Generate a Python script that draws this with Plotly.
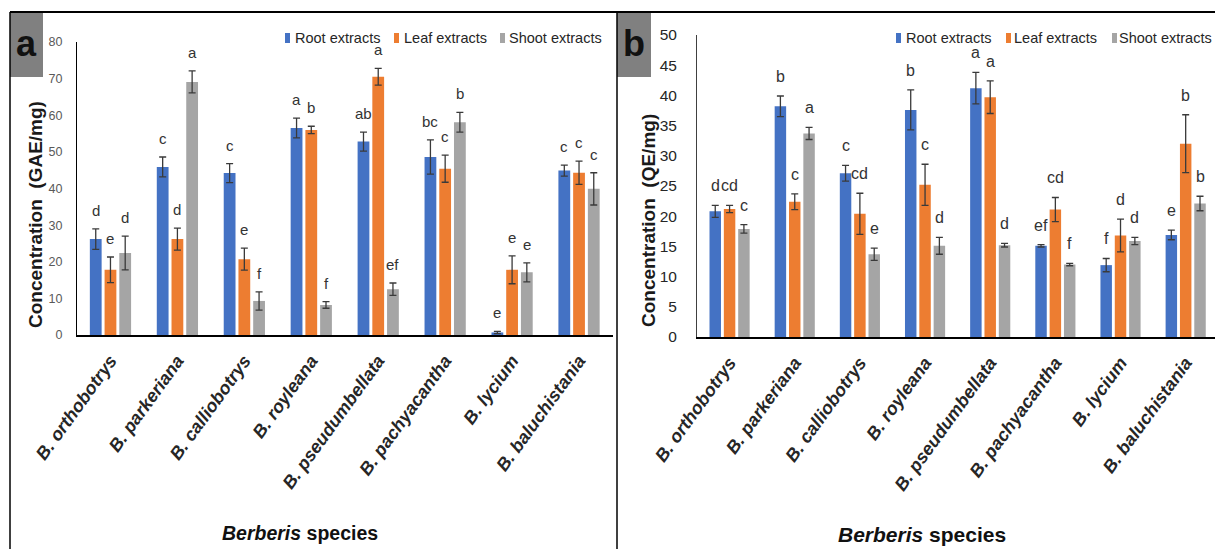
import plotly.graph_objects as go

# ---------------- data ----------------
species = ["B. orthobotrys", "B. parkeriana", "B. calliobotrys", "B. royleana",
           "B. pseudumbellata", "B. pachyacantha", "B. lycium", "B. baluchistania"]
series_names = ["Root extracts", "Leaf extracts", "Shoot extracts"]

# (a) total phenolic content, GAE/mg
phenol_root = [26.2, 45.9, 44.2, 56.5, 52.8, 48.6, 0.7, 44.9]
phenol_leaf = [17.8, 26.2, 20.7, 56.0, 70.5, 45.4, 17.8, 44.3]
phenol_shoot = [22.4, 69.1, 9.3, 8.2, 12.5, 58.1, 17.1, 39.9]
phenol_root_err = [2.8, 2.7, 2.6, 2.7, 2.6, 4.7, 0.3, 1.5]
phenol_leaf_err = [3.5, 3.0, 3.0, 1.0, 2.3, 3.7, 3.8, 3.2]
phenol_shoot_err = [4.6, 3.0, 2.5, 0.9, 1.7, 2.7, 2.6, 4.4]
phenol_root_sig = ["d", "c", "c", "a", "ab", "bc", "e", "c"]
phenol_leaf_sig = ["e", "d", "e", "b", "a", "c", "e", "c"]
phenol_shoot_sig = ["d", "a", "f", "f", "ef", "b", "e", "c"]

# (b) total flavonoid content, QE/mg
flav_root = [20.8, 38.2, 27.1, 37.6, 41.2, 15.1, 11.9, 16.9]
flav_leaf = [21.2, 22.4, 20.4, 25.2, 39.7, 21.1, 16.8, 32.0]
flav_shoot = [17.9, 33.7, 13.7, 15.1, 15.2, 12.0, 15.9, 22.1]
flav_root_err = [1.0, 1.7, 1.3, 3.3, 2.6, 0.2, 1.1, 0.8]
flav_leaf_err = [0.6, 1.3, 3.4, 3.4, 2.7, 2.0, 2.7, 4.8]
flav_shoot_err = [0.7, 1.0, 1.0, 1.4, 0.3, 0.2, 0.6, 1.2]
flav_root_sig = ["d", "b", "c", "b", "a", "ef", "f", "e"]
flav_leaf_sig = ["cd", "c", "cd", "c", "a", "cd", "d", "b"]
flav_shoot_sig = ["c", "a", "e", "d", "d", "f", "d", "b"]

colors = ["#4472C4", "#ED7D31", "#A5A5A5"]

# ---------------- layout helpers ----------------
W, H = 1215, 549


def px(x):
    return x / W


def py(y):
    return 1 - y / H


BARGAP = 0.34
SLOT = (1 - BARGAP) / 3  # width of one bar slot in category units

FONT = "Liberation Sans, Arial, sans-serif"

fig = go.Figure()

panels = [
    ("x", "y", [phenol_root, phenol_leaf, phenol_shoot],
     [phenol_root_err, phenol_leaf_err, phenol_shoot_err],
     [phenol_root_sig, phenol_leaf_sig, phenol_shoot_sig]),
    ("x2", "y2", [flav_root, flav_leaf, flav_shoot],
     [flav_root_err, flav_leaf_err, flav_shoot_err],
     [flav_root_sig, flav_leaf_sig, flav_shoot_sig]),
]

annotations = []
for k, (xa, ya, vals, errs, sigs) in enumerate(panels):
    for j in range(3):
        fig.add_trace(go.Bar(
            x=list(range(len(species))), y=vals[j], name=series_names[j],
            marker=dict(color=colors[j], line=dict(width=0)),
            error_y=dict(type="data", array=errs[j], symmetric=True,
                         color="#3a3a3a", thickness=1.3, width=3.5),
            xaxis=xa, yaxis=ya, showlegend=False,
        ))
        for i in range(len(species)):
            annotations.append(dict(
                x=i + (j - 1) * SLOT, y=vals[j][i] + errs[j][i],
                xref=xa, yref=ya, text=sigs[j][i], showarrow=False,
                xanchor="center", yanchor="bottom", yshift=8 if k == 0 else 9,
                font=dict(family=FONT, size=15 if k == 0 else 16, color="#333333"),
            ))

tick_font = dict(family=FONT, size=18, color="#262626", weight="bold", style="italic")
common_x = dict(tickvals=list(range(len(species))), ticktext=species,
                tickangle=-54, tickfont=tick_font, ticks="",
                showline=True, linecolor="black", linewidth=2,
                showgrid=False, zeroline=False, automargin=False,
                ticklabelstandoff=6)

fig.update_layout(
    width=W, height=H,
    margin=dict(l=0, r=0, t=0, b=0, autoexpand=False),
    paper_bgcolor="white", plot_bgcolor="white",
    barmode="group", bargap=BARGAP, bargroupgap=0.2,
    showlegend=False,
    xaxis=dict(domain=[px(77), px(612.5)], range=[-0.5, 7.5], anchor="y", **common_x),
    yaxis=dict(domain=[py(335), py(42)], range=[0, 80], dtick=10,
               tickfont=dict(family=FONT, size=12.5, color="#595959"),
               showline=True, linecolor="black", linewidth=1.3,
               showgrid=False, zeroline=False, anchor="x", ticks="",
               automargin=False, ticklabelstandoff=11),
    xaxis2=dict(domain=[px(697), 1.0], range=[-0.5, 7.45], anchor="y2", **common_x),
    yaxis2=dict(domain=[py(337), py(35)], range=[0, 50], dtick=5,
                tickfont=dict(family=FONT, size=15.5, color="#262626"),
                showline=True, linecolor="#404040", linewidth=1,
                showgrid=False, zeroline=False, anchor="x2", ticks="",
                automargin=False, ticklabelstandoff=16),
)


def paper_text(x, y, text, size, color="#1a1a1a", angle=0, xanchor="center"):
    return dict(x=px(x), y=py(y), xref="paper", yref="paper", text=text,
                textangle=angle, showarrow=False, xanchor=xanchor, yanchor="middle",
                font=dict(family=FONT, size=size, color=color))


# axis titles
annotations += [
    paper_text(35, 215, "<b>Concentration  (GAE/mg)</b>", 19, angle=-90),
    paper_text(648, 221, "<b>Concentration  (QE/mg)</b>", 19, angle=-90),
    paper_text(300, 533, "<b><i>Berberis</i> species</b>", 19.5, color="#111111"),
    paper_text(922, 534, "<b><i>Berberis</i> species</b>", 21, color="#111111"),
]

shapes = []
# legends drawn as swatch + label for each panel
legend_pos = [
    [(285, 293), (394, 402), (500, 507)],
    [(896, 904), (1006, 1012), (1112, 1117)],
]
for items in legend_pos:
    for j, (mx, tx) in enumerate(items):
        shapes.append(dict(type="rect", xref="paper", yref="paper",
                           x0=px(mx), x1=px(mx + 5), y0=py(43), y1=py(33),
                           fillcolor=colors[j], line=dict(width=0)))
        annotations.append(paper_text(tx, 38, series_names[j], 14.5,
                                      color="#262626", xanchor="left"))

# panel letters
for x0, x1, letter in [(10, 43, "a"), (617, 651, "b")]:
    shapes.append(dict(type="rect", xref="paper", yref="paper",
                       x0=px(x0), x1=px(x1), y0=py(77), y1=py(12),
                       fillcolor="#808080", line=dict(width=0)))
    annotations.append(paper_text((x0 + x1) / 2, 44, f"<b>{letter}</b>", 36, color="#111111"))

# panel frames
shapes += [
    dict(type="line", xref="paper", yref="paper", x0=px(10), x1=1, y0=py(12), y1=py(12),
         line=dict(color="black", width=2)),
    dict(type="line", xref="paper", yref="paper", x0=px(10), x1=px(10), y0=py(12), y1=0,
         line=dict(color="black", width=1.5)),
    dict(type="line", xref="paper", yref="paper", x0=px(617), x1=px(617), y0=py(12), y1=0,
         line=dict(color="black", width=1.5)),
]

fig.update_layout(annotations=annotations, shapes=shapes)
fig.write_html("out.html")
